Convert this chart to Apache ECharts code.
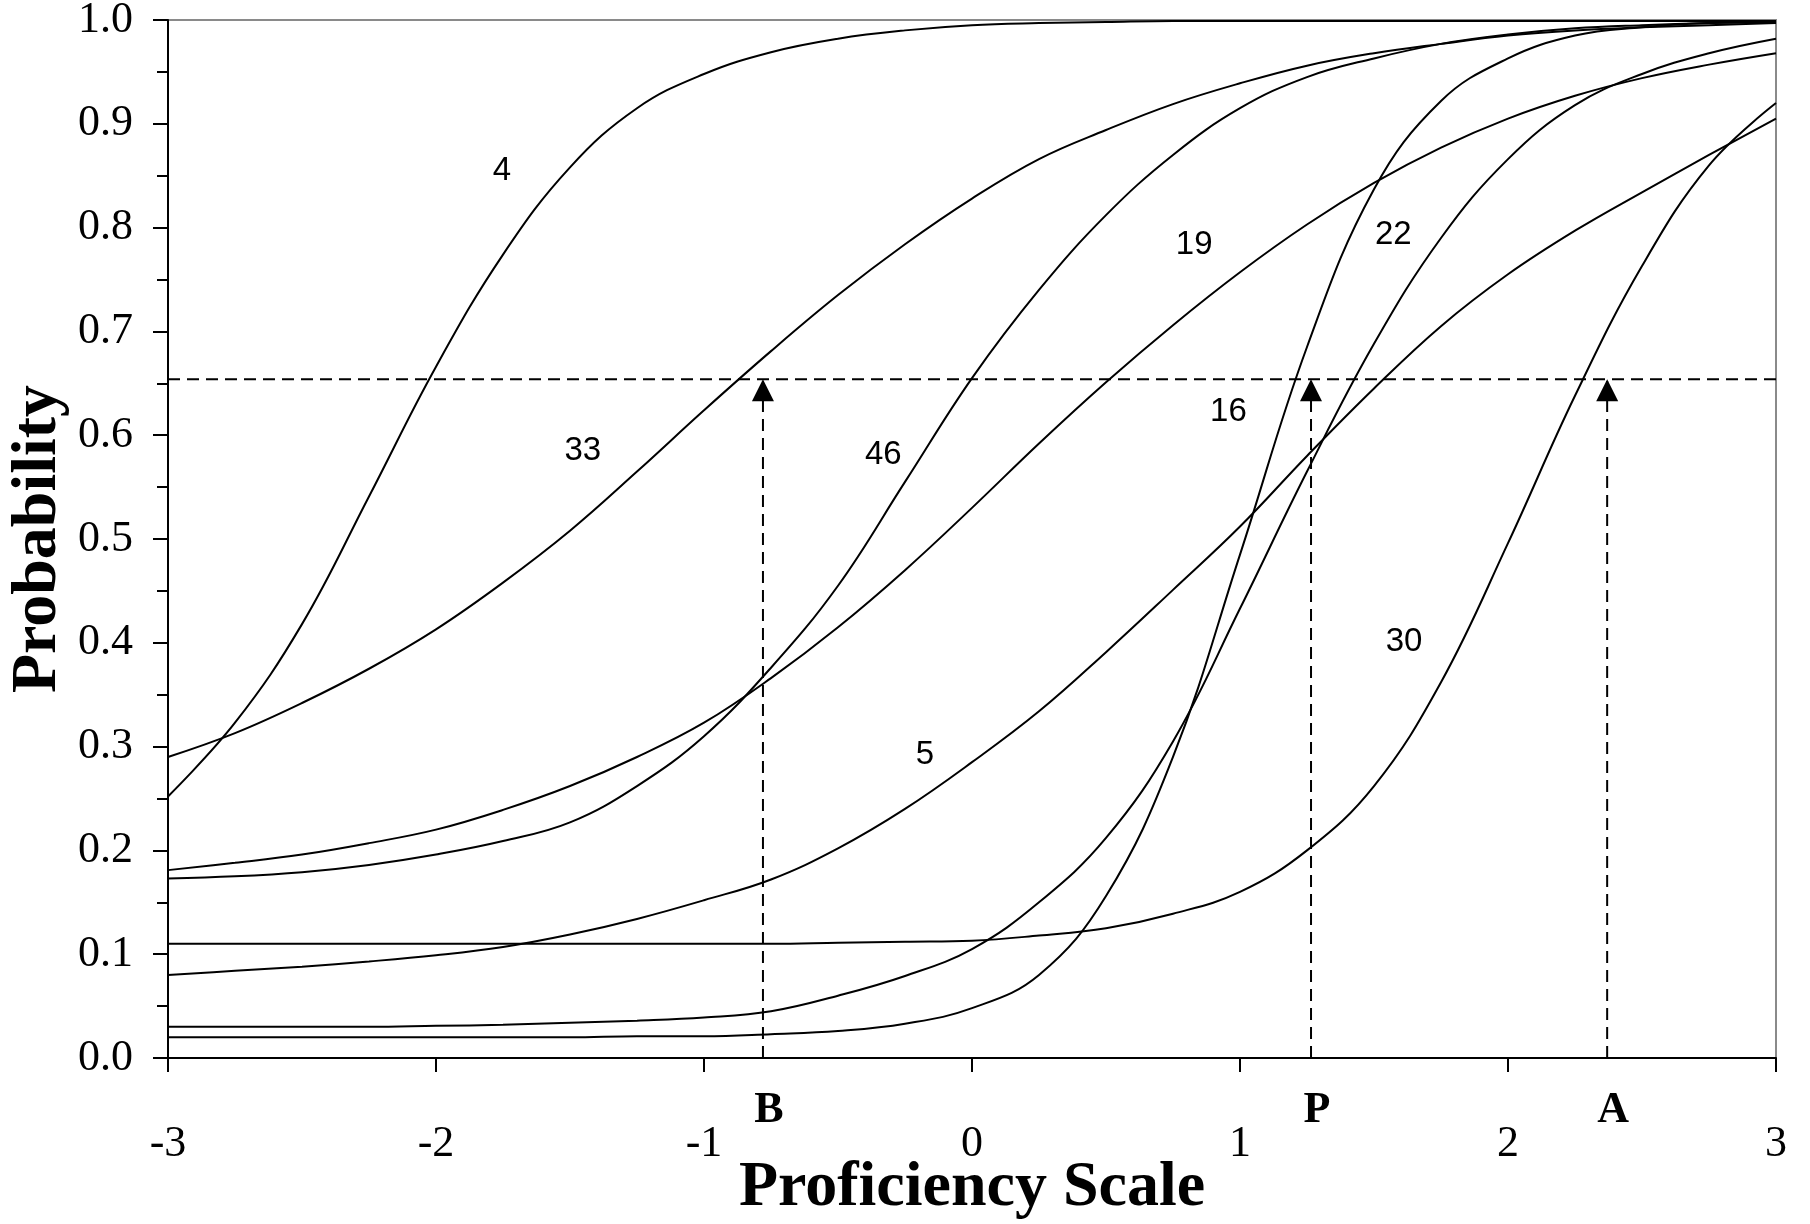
<!DOCTYPE html>
<html>
<head>
<meta charset="utf-8">
<title>Item characteristic curves</title>
<script src="https://cdn.jsdelivr.net/npm/echarts@6/dist/echarts.min.js"></script>
<style>
    html, body { margin: 0; padding: 0; background: #fff; }
    #chart { width: 1810px; height: 1224px; }
</style>
</head>
<body>
<div id="chart"></div>
<script>
// proficiency points (every 0.25)
const theta = [-3, -2.75, -2.5, -2.25, -2, -1.75, -1.5, -1.25, -1, -0.75, -0.5, -0.25,
    0, 0.25, 0.5, 0.75, 1, 1.25, 1.5, 1.75, 2, 2.25, 2.5, 2.75, 3];

// probability for each item at those points
const item4  = [0.252, 0.323, 0.418, 0.541, 0.666, 0.774, 0.858, 0.915, 0.948, 0.969, 0.982, 0.990,
    0.995, 0.997, 0.998, 0.999, 0.999, 0.999, 0.999, 0.999, 0.999, 0.999, 0.999, 0.999, 0.999];
const item33 = [0.290, 0.313, 0.342, 0.375, 0.413, 0.458, 0.508, 0.565, 0.624, 0.681, 0.735, 0.784,
    0.828, 0.866, 0.894, 0.919, 0.939, 0.956, 0.968, 0.977, 0.985, 0.990, 0.993, 0.995, 0.997];
const item46 = [0.173, 0.175, 0.179, 0.186, 0.196, 0.209, 0.227, 0.262, 0.310, 0.376, 0.455, 0.555,
    0.655, 0.740, 0.812, 0.870, 0.915, 0.945, 0.963, 0.977, 0.986, 0.992, 0.995, 0.997, 0.998];
const item19 = [0.181, 0.188, 0.196, 0.207, 0.220, 0.239, 0.262, 0.290, 0.323, 0.366, 0.415, 0.470,
    0.530, 0.592, 0.651, 0.706, 0.757, 0.803, 0.843, 0.877, 0.905, 0.927, 0.944, 0.957, 0.968];
const item5  = [0.080, 0.084, 0.088, 0.093, 0.099, 0.107, 0.119, 0.134, 0.152, 0.172, 0.202, 0.240,
    0.285, 0.334, 0.391, 0.451, 0.512, 0.580, 0.645, 0.705, 0.755, 0.797, 0.834, 0.870, 0.905];
const item30 = [0.110, 0.110, 0.110, 0.110, 0.110, 0.110, 0.110, 0.110, 0.110, 0.110, 0.111, 0.112,
    0.113, 0.118, 0.125, 0.139, 0.160, 0.200, 0.262, 0.362, 0.496, 0.638, 0.763, 0.860, 0.920];
const item22 = [0.020, 0.020, 0.020, 0.020, 0.020, 0.020, 0.020, 0.021, 0.021, 0.023, 0.026, 0.033,
    0.048, 0.080, 0.156, 0.290, 0.485, 0.685, 0.837, 0.922, 0.963, 0.985, 0.993, 0.997, 0.998];
const item16 = [0.030, 0.030, 0.030, 0.030, 0.031, 0.032, 0.034, 0.036, 0.039, 0.045, 0.060, 0.079,
    0.105, 0.150, 0.212, 0.305, 0.433, 0.565, 0.688, 0.790, 0.866, 0.918, 0.948, 0.968, 0.982];

const itemNames = ['4', '33', '46', '19', '5', '30', '22', '16'];
const itemValues = [item4, item33, item46, item19, item5, item30, item22, item16];

// where the item numbers are written
const labelNames = ['4', '33', '46', '19', '22', '16', '5', '30'];
const labelX = [-1.754, -1.452, -0.331, 0.829, 1.572, 0.957, -0.176, 1.612];
const labelY = [0.855, 0.585, 0.581, 0.783, 0.793, 0.622, 0.292, 0.401];

// cut scores
const cutProb = 0.654;
const cutNames = ['B', 'P', 'A'];
const cutX = [-0.78, 1.265, 2.37];

const serif = '"Liberation Serif", "Times New Roman", serif';
const sans = '"Liberation Sans", Arial, sans-serif';

const chart = echarts.init(document.getElementById('chart'));

const series = [];

// item curves
itemNames.forEach((name, i) => {
    series.push({
        name: 'Item ' + name,
        type: 'line',
        data: theta.map((t, j) => [t, itemValues[i][j]]),
        smooth: 0.4,
        symbol: 'none',
        lineStyle: { color: '#000', width: 2 },
        z: 3
    });
});

// horizontal cut line
series.push({
    type: 'line',
    data: [[-3, cutProb], [3, cutProb]],
    symbol: 'none',
    lineStyle: { color: '#000', width: 2, type: [12, 7] },
    z: 2
});

// vertical lines up to the cut line
cutX.forEach(x => {
    series.push({
        type: 'line',
        data: [[x, 0], [x, cutProb]],
        symbol: 'none',
        lineStyle: { color: '#000', width: 2, type: [12, 7] },
        z: 2
    });
});

// arrow heads
series.push({
    type: 'scatter',
    data: cutX.map(x => [x, cutProb]),
    symbol: 'triangle',
    symbolSize: [22, 22],
    symbolOffset: [0, 11],
    itemStyle: { color: '#000', opacity: 1 },
    z: 4
});

// B / P / A under the axis
series.push({
    type: 'scatter',
    data: cutX.map((x, i) => [x, 0, cutNames[i]]),
    symbolSize: 0,
    itemStyle: { opacity: 1 },
    label: {
        show: true,
        position: 'inside',
        offset: [6, 53],
        formatter: p => p.data[2],
        fontFamily: serif,
        fontWeight: 'bold',
        fontSize: 44,
        color: '#000'
    },
    z: 5
});

// item numbers
series.push({
    type: 'scatter',
    data: labelNames.map((n, i) => [labelX[i], labelY[i], n]),
    symbolSize: 0,
    itemStyle: { opacity: 1 },
    label: {
        show: true,
        position: 'inside',
        formatter: p => p.data[2],
        fontFamily: sans,
        fontSize: 33,
        color: '#000'
    },
    z: 5
});

const option = {
    animation: false,
    backgroundColor: '#fff',
    grid: {
        left: 168,
        right: 34,
        top: 20,
        bottom: 166,
        outerBoundsMode: 'none',
        containLabel: false,
        show: true,
        borderColor: '#8a8a8a',
        borderWidth: 2
    },
    xAxis: {
        type: 'value',
        min: -3,
        max: 3,
        interval: 1,
        name: 'Proficiency Scale',
        nameLocation: 'middle',
        nameGap: 98,
        nameMoveOverlap: false,
        nameTextStyle: { fontFamily: serif, fontWeight: 'bold', fontSize: 64, color: '#000' },
        axisLine: { onZero: false, lineStyle: { color: '#000', width: 2 } },
        axisTick: { show: true, length: 14, lineStyle: { color: '#000', width: 2 } },
        splitLine: { show: false },
        axisLabel: { margin: 64, fontFamily: serif, fontSize: 44, color: '#000' }
    },
    yAxis: {
        type: 'value',
        min: 0,
        max: 1,
        interval: 0.1,
        name: 'Probability',
        nameLocation: 'middle',
        nameGap: 98,
        nameRotate: 90,
        nameMoveOverlap: false,
        nameTextStyle: { fontFamily: serif, fontWeight: 'bold', fontSize: 64, color: '#000' },
        axisLine: { show: true, onZero: false, lineStyle: { color: '#000', width: 2 } },
        axisTick: { show: true, length: 15, lineStyle: { color: '#000', width: 2 } },
        minorTick: { show: true, splitNumber: 2, length: 11, lineStyle: { color: '#000', width: 2 } },
        splitLine: { show: false },
        minorSplitLine: { show: false },
        axisLabel: {
            margin: 35,
            fontFamily: serif,
            fontSize: 44,
            color: '#000',
            formatter: v => v.toFixed(1)
        }
    },
    series: series
};

chart.setOption(option);
</script>
</body>
</html>
